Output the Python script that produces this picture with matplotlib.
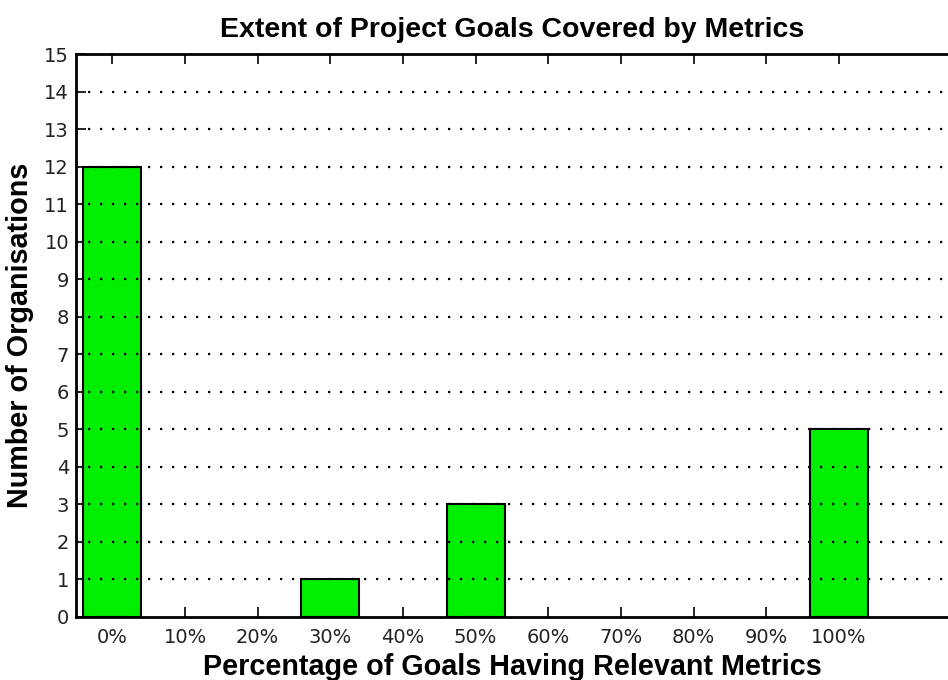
import matplotlib
matplotlib.use("Agg")
import matplotlib.pyplot as plt
from matplotlib import font_manager as fm
import numpy as np

categories = ["0%", "10%", "20%", "30%", "40%", "50%", "60%", "70%", "80%", "90%", "100%"]
counts = [12, 0, 0, 1, 0, 3, 0, 0, 0, 0, 5]
y_ticks = list(range(0, 16))

bold_path = None
for f in fm.findSystemFonts():
    if f.endswith("LiberationSans-Bold.ttf"):
        bold_path = f
        break
if bold_path:
    bold_fp = lambda s: fm.FontProperties(fname=bold_path, size=s)
else:
    bold_fp = lambda s: fm.FontProperties(family="DejaVu Sans", weight="bold", size=s)

fig = plt.figure(figsize=(9.48, 6.8), dpi=100)
ax = fig.add_axes([76/948, 1 - 617/680, 1 - 76/948, (617 - 54)/680])

x = np.arange(len(categories))
cnt = np.array(counts)
mask = cnt > 0
ax.bar(x[mask], cnt[mask], width=0.8, color="#00ee00", edgecolor="black", linewidth=1.5, zorder=2)

ax.set_xlim(-0.5, 11.5)
ax.set_ylim(0, 15)
ax.set_xticks(x)
ax.set_xticklabels(categories, fontsize=14, family="DejaVu Sans", color="#222222")
ax.set_yticks(y_ticks)
ax.set_yticklabels([str(v) for v in y_ticks], fontsize=14, family="DejaVu Sans", color="#222222")

for yv in y_ticks[1:-1]:
    ax.axhline(yv, color="black", linewidth=1.6, linestyle=(0, (1, 4.4)), zorder=3)

ax.tick_params(axis="x", direction="in", length=7, width=1.2, top=True, bottom=True, pad=8)
ax.tick_params(axis="y", direction="in", length=7, width=1.2, left=True, right=False, pad=5)

for s in ["left", "top", "bottom"]:
    ax.spines[s].set_linewidth(2)
    ax.spines[s].set_zorder(4)
ax.spines["right"].set_visible(False)

ax.set_title("Extent of Project Goals Covered by Metrics", fontproperties=bold_fp(20.5), pad=12)
ax.set_xlabel("Percentage of Goals Having Relevant Metrics", fontproperties=bold_fp(20.7), labelpad=4)
ax.set_ylabel("Number of Organisations", fontproperties=bold_fp(20.7), labelpad=7)

fig.savefig("out.png", dpi=100)
